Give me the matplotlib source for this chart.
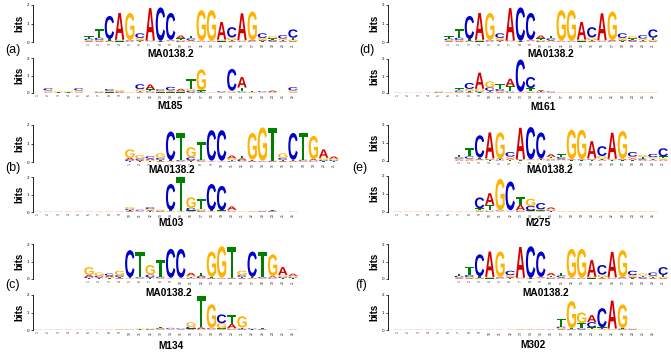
import matplotlib
matplotlib.use('Agg')
import matplotlib.pyplot as plt
from matplotlib.textpath import TextPath
from matplotlib.patches import PathPatch
from matplotlib.font_manager import FontProperties
from matplotlib.transforms import Affine2D

# letter heights per column, in hundredths of bits (bottom -> top order is sorted later)
MA0138_2 = ["A5 G5 C8 T12", "A5 G6 C12 T45", "G3 A5 T8 C125", "T3 C4 G5 A145",
            "C3 T4 A5 G145", "T5 A7 G10 C25", "T2 G3 C3 A175", "G2 T2 A3 C180",
            "G3 T4 A5 C145", "C5 G7 T8 A15", "G4 A6 C10 T15", "T2 C2 A3 G165",
            "T2 C2 A3 G165", "T3 C4 G6 A95", "A5 T5 G15 C55", "T2 C3 G5 A145",
            "T2 C3 A5 G155", "T5 A7 G10 C25", "A5 C6 T8 G12", "A5 T6 G8 C18",
            "A5 G8 T10 C45"]

M185 = ["T1 G1", "A3 T4 G8 C12", "A2 T3 G5", "C2 T3 G5", "A3 T4 G8 C12", "T1 G1",
        "A2 C3 G5", "T3 A4 G6 C10", "A3 C4 G10", "A1 G2", "A4 T6 G12 C28",
        "G4 C5 T12 A28", "T3 A4 G6 C8", "T3 A5 G7 C20", "T3 C4 G5 A12",
        "A5 C8 G12 T55", "A3 C5 T7 G120", "A1 G2", "A2 G3 C5", "A3 T4 G6 C125",
        "G4 C5 T22 A60", "A2 G4 T6", "T2 G3 C5", "C2 G4 A8", "G1 T1", "A3 T4 G8 C18"]

M103 = ["A1 G1"] * 9 + [
        "A5 T5 C7 G12", "A3 T4 C6", "T4 A6 G7 C10", "A3 C4 G6", "A2 G3 T5 C150",
        "A2 G2 T195", "A4 T5 C15 G60", "A3 C5 G10 T55", "A2 G3 T5 C150",
        "A2 G3 T4 C140", "C3 T4 G5 A20", "G1 A1", "G2 A2", "C2 A3 G3",
        "A3 C4 T6", "G1", "G1 C1"]

M134 = ["G1 A1"] * 8 + [
        "A2 G3", "C2 G2", "A2 T3 G3", "A2 C3 G4", "A3 G4 C4 T6", "A3 T4 C5",
        "T2 A3 C4", "A4 T5 C10 G25", "C2 G3 A10 T180", "A3 T4 C5 G135",
        "A4 T5 G30 C50", "C4 G6 A25 T50", "A3 C5 T6 G65", "A2 T3 C4",
        "A2 C3 T7", "G1", "G1", "C1 A1"]

M161 = ["A1 G1"] * 4 + [
        "A2 C3 T3 G4", "A2 G3 T3", "A3 G4 C8 T12", "A5 T7 G12 C35",
        "T4 C6 G15 A95", "A5 T8 C20 G35", "A5 G7 C12 T30", "G4 C5 T30 A45",
        "A2 G2 T3 C190", "A4 G5 T20 C65", "G2 C3 T5 A7", "A2 G3 C4"] + ["A1 G2"] * 10

M275 = ["A1 G1"] * 8 + [
        "A4 G5 T10 C60", "C3 G5 T30 A65", "A2 T2 C3 G175", "A2 T3 G3 C160",
        "C4 G5 A30 T40", "A3 T4 C25 G40", "A3 T4 G6 C35", "T3 C5 G6 A10"] + ["A1 G2"] * 10

M302 = ["A1 G1"] * 12 + [
        "A2 G3", "G1 A2", "G1 A2", "G1 A2", "A5 G6 C8 T45", "A2 C3 T5 G155",
        "A4 C6 T30 G60", "G5 T10 C30 A40", "A3 G4 T8 C110", "C2 G3 T3 A160",
        "A3 C4 T4 G135", "C2 A3 G4", "G2", "G1"]

panel_letters = ['(a)', '(b)', '(c)', '(d)', '(e)', '(f)']
bottom_names = ['M185', 'M103', 'M134', 'M161', 'M275', 'M302']
bottom_data = [M185, M103, M134, M161, M275, M302]
top_reverse = [False, True, True, False, False, False]
top_offsets = [5, 9, 5, 5, 6, 6]

colors = {'A': '#d40000', 'C': '#0000cc', 'G': '#ffb300', 'T': '#008000'}
comp = {'A': 'T', 'C': 'G', 'G': 'C', 'T': 'A'}

W, H = 671, 353
fig = plt.figure(figsize=(W / 100, H / 100), dpi=100)

fp = FontProperties(family='Liberation Sans', weight='bold')
glyphs = {l: TextPath((0, 0), l, size=1, prop=fp) for l in 'ACGT'}
SP = 10.2  # pixels per logo column


def parse(cols):
    out = []
    for c in cols:
        out.append([(t[0], int(t[1:]) / 100) for t in c.split()])
    return out


def rev_comp(cols):
    return [[(comp[l], h) for l, h in c] for c in reversed(cols)]


def draw_letter(ax, l, x, y, w, h):
    p = glyphs[l]
    e = p.get_extents()
    tr = Affine2D().translate(-e.x0, -e.y0).scale(w / e.width, h / e.height).translate(x - w / 2, y)
    ax.add_patch(PathPatch(tr.transform_path(p), fc=colors[l], ec='none', lw=0, clip_on=False))


def logo(cols, left, y0, y2, xleft, wpx, offset):
    ax = fig.add_axes([left / W, 1 - y0 / H, wpx / W, (y0 - y2) / H])
    ax.patch.set_visible(False)
    ax.set_xlim(xleft, xleft + wpx / SP)
    ax.set_ylim(0, 2)
    for i, col in enumerate(cols):
        x = i + 1 + offset
        y = 0
        for l, h in sorted(col, key=lambda t: t[1]):
            draw_letter(ax, l, x, y, 0.92, h)
            y += h
    n = len(cols)
    ax.set_xticks(range(1 + offset, n + 1 + offset))
    ax.set_xticklabels([str(i) for i in range(1, n + 1)], rotation=90, fontsize=2.2, color='#222222')
    ax.tick_params(axis='x', length=0, pad=0.8)
    ax.set_yticks([0, 1, 2])
    ax.set_yticklabels(['0', '1', '2'], fontsize=3)
    ax.tick_params(axis='y', length=1.5, width=0.5, pad=1)
    for s in ['top', 'right', 'bottom']:
        ax.spines[s].set_visible(False)
    ax.spines['left'].set_linewidth(0.6)
    ax.set_ylabel('bits', fontsize=7, fontweight='bold', labelpad=2, family='Liberation Sans')
    return ax


ma = parse(MA0138_2)
# panel geometry in pixels: (spine x, top y0, top y2, bottom y0, bottom y2, xleft, width,
#                            letter x, letter y, top label x, top label y, bottom label x, bottom label y)
geom = [
    (33, 42, 5, 93, 58, 0.51, 316, 13, 50, 171, 54, 170, 106),
    (33, 162, 125, 212, 177, 0.51, 316, 13, 168, 172, 170, 171, 223),
    (33, 279, 244, 330, 295, 0.51, 316, 13, 285, 169, 293, 171, 346),
    (388, 42, 5, 93, 59, 0.02, 280, 367, 50, 551, 54, 543, 107),
    (388, 160.5, 124.7, 211.7, 175.7, 0.02, 280, 360, 168, 550, 170, 538, 223),
    (388, 279, 244, 330, 295, 0.02, 280, 361, 285, 546, 293, 533, 345),
]

for k in range(6):
    L, ty0, ty2, by0, by2, xl, wpx, lx, ly, tlx, tly, blx, bly = geom[k]
    top = rev_comp(ma) if top_reverse[k] else ma
    logo(top, L, ty0, ty2, xl, wpx, top_offsets[k])
    logo(parse(bottom_data[k]), L, by0, by2, xl, wpx, 0)
    fig.text(lx / W, 1 - ly / H, panel_letters[k], fontsize=9, ha='center', va='center',
             family='Liberation Sans')
    fig.text(tlx / W, 1 - tly / H, 'MA0138.2', fontsize=7.3, fontweight='bold', ha='center',
             va='center', family='Liberation Sans')
    fig.text(blx / W, 1 - bly / H, bottom_names[k], fontsize=7.3, fontweight='bold', ha='center',
             va='center', family='Liberation Sans')

fig.savefig('out.png', dpi=100)
